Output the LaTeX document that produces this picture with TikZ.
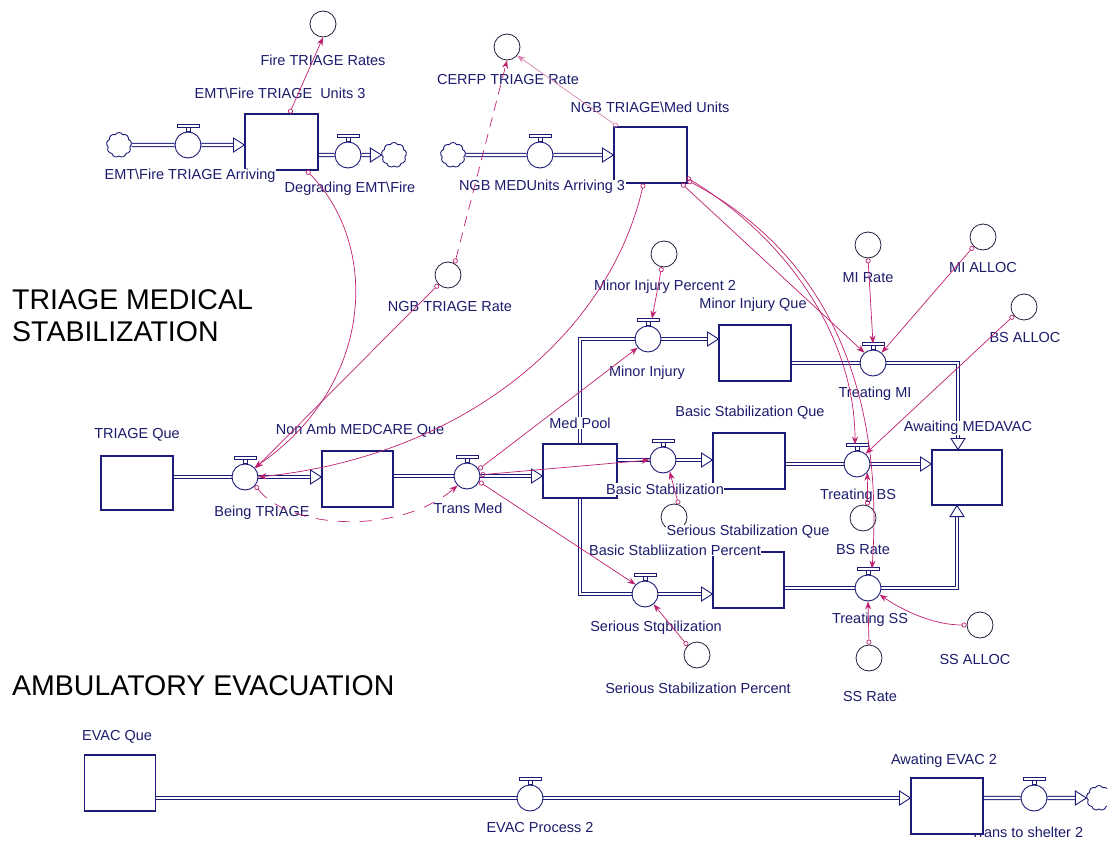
\documentclass[tikz,border=0pt]{standalone}
\usepackage{fontspec}
\setmainfont{Liberation Sans}
\usetikzlibrary{arrows.meta,shapes.symbols,calc}
\definecolor{pipec}{RGB}{28,28,120}
\definecolor{labc}{RGB}{28,28,110}
\definecolor{linkc}{RGB}{192,32,112}
\definecolor{auxc}{RGB}{30,30,60}
\pgfdeclarelayer{paper}
\pgfdeclarelayer{pipes}
\pgfsetlayers{paper,pipes,main}
\tikzset{
  flowtip/.pic={\draw[pipec, fill=white, line width=0.9pt, line join=miter] (0,0) -- (-11,-7) -- (-11,7) -- cycle;},
}
\begin{document}
\begin{tikzpicture}[x=1pt,y=-1pt,
  lab/.style={font=\fontsize{14.5}{17}\selectfont, text=labc, fill=white, inner sep=0.6pt},
  head/.style={font=\fontsize{28.5}{32}\selectfont, anchor=west, align=left, inner sep=0pt},
  stock/.style={rectangle, draw=pipec, fill=white, line width=1.1pt, inner sep=0pt},
  valve/.style={circle, draw=pipec, fill=white, line width=0.9pt, minimum size=26pt, inner sep=0pt},
  sink/.style={cloud, cloud puffs=9, cloud puff arc=120, aspect=1, draw=pipec, fill=white, line width=0.9pt, minimum width=25pt, minimum height=25pt, inner sep=0pt},
  aux/.style={circle, draw=auxc, fill=white, line width=0.8pt, minimum size=26pt, inner sep=0pt},
  pipe/.style={draw=pipec, line width=0.9pt, double=white, double distance=2.4pt, line join=miter},
  link/.style={draw=linkc, line width=0.7pt, {Circle[open,length=5pt,width=5pt]}-{Stealth[length=8pt,width=6pt]}},
  faint/.style={draw=linkc!55},
  dashlink/.style={dash pattern=on 10pt off 7pt},
]
\useasboundingbox (0,0) rectangle (1107,842);
\begin{pgfonlayer}{paper}
  \fill[white] (0,0) rectangle (1107,842);
\end{pgfonlayer}

% ---------- section headings ----------
\node[head] (hTriage) at (12,316) {TRIAGE MEDICAL\\STABILIZATION};
\node[head] (hAmb) at (12,686) {AMBULATORY EVACUATION};

% label partly hidden by the stock drawn after it
\node[lab] (lvts) at (1027,832) {Trans to shelter 2};

% ---------- stocks ----------
\node[stock, minimum width=73pt, minimum height=56pt] (s1) at (281.5,142) {};
\node[stock, minimum width=73pt, minimum height=56pt] (s2) at (650.5,155) {};
\node[stock, minimum width=72pt, minimum height=54pt] (tq) at (137,483) {};
\node[stock, minimum width=71pt, minimum height=56pt] (nonamb) at (357.5,479) {};
\node[stock, minimum width=74pt, minimum height=54pt] (medpool) at (580,471) {};
\node[stock, minimum width=72pt, minimum height=56pt] (miq) at (755,353) {};
\node[stock, minimum width=72pt, minimum height=56pt] (bsq) at (749,461) {};
\node[stock, minimum width=71pt, minimum height=56pt] (ssq) at (748.5,580) {};
\node[stock, minimum width=70pt, minimum height=55pt] (medavac) at (967,477.5) {};
\node[stock, minimum width=71pt, minimum height=56pt] (evacq) at (120,783) {};
\node[stock, minimum width=72pt, minimum height=56pt] (evac2) at (947,806) {};

% ---------- flow valves ----------
\node[valve] (v1) at (188,145) {};
\node[valve] (v2) at (348,155) {};
\node[valve] (v3) at (540,155) {};
\node[valve] (vbt) at (245,477) {};
\node[valve] (vtm) at (467,476) {};
\node[valve] (vmi) at (648,339) {};
\node[valve] (vbs) at (663,460) {};
\node[valve] (vss) at (645,594) {};
\node[valve] (vtmi) at (873,363) {};
\node[valve] (vtbs) at (857,464) {};
\node[valve] (vtss) at (868,588) {};
\node[valve] (vevac) at (530,798) {};
\node[valve] (vts) at (1034,798) {};
\foreach \v in {v1,v2,v3,vbt,vtm,vmi,vbs,vss,vtmi,vtbs,vtss,vevac,vts} {
  \draw[pipec, fill=white, line width=0.8pt] ($(\v.north)+(-2,0)$) rectangle ($(\v.north)+(2,-4)$);
  \draw[pipec, fill=white, line width=0.8pt] ($(\v.north)+(-11,-4)$) rectangle ($(\v.north)+(11,-7.5)$);
}

% ---------- sources and sinks ----------
\node[sink] (c1) at (119,145) {};
\node[sink] (c2) at (394,155) {};
\node[sink] (c3) at (453,155) {};
\node[sink] (c4) at (1099,798) {};

% ---------- converters ----------
\node[aux] (afire) at (323,24) {};
\node[aux] (acerfp) at (507,47) {};
\node[aux] (angb) at (448,275) {};
\node[aux] (amip) at (664,254) {};
\node[aux] (amirate) at (868,245) {};
\node[aux] (amialloc) at (983,237) {};
\node[aux] (abspct) at (674,517) {};
\node[aux] (absalloc) at (1024,307) {};
\node[aux] (absrate) at (863,518) {};
\node[aux] (assalloc) at (980,625) {};
\node[aux] (assrate) at (869,658) {};
\node[aux] (asspct) at (697,655) {};

% ---------- pipes ----------
\begin{pgfonlayer}{pipes}
  \draw[pipe] (c1) -- (v1) -- ($(s1.west|-v1)+(-11,0)$);
  \pic at (s1.west|-v1) {flowtip};
  \draw[pipe] (s1.east|-v2) -- (v2) -- ($(c2.west)+(-11,0)$);
  \pic at (c2.west) {flowtip};
  \draw[pipe] (c3) -- (v3) -- ($(s2.west|-v3)+(-11,0)$);
  \pic at (s2.west|-v3) {flowtip};
  \draw[pipe] (tq.east|-vbt) -- (vbt) -- ($(nonamb.west|-vbt)+(-11,0)$);
  \pic at (nonamb.west|-vbt) {flowtip};
  \draw[pipe] (nonamb.east|-vtm) -- (vtm) -- ($(medpool.west|-vtm)+(-11,0)$);
  \pic at (medpool.west|-vtm) {flowtip};
  \draw[pipe] (medpool.north) |- (vmi) -- ($(miq.west|-vmi)+(-11,0)$);
  \pic at (miq.west|-vmi) {flowtip};
  \draw[pipe] (medpool.east|-vbs) -- (vbs) -- ($(bsq.west|-vbs)+(-11,0)$);
  \pic at (bsq.west|-vbs) {flowtip};
  \draw[pipe] (medpool.south) |- (vss) -- ($(ssq.west|-vss)+(-11,0)$);
  \pic at (ssq.west|-vss) {flowtip};
  \coordinate (mtop) at ($(medavac.north)+(-9,0)$);
  \coordinate (mbot) at ($(medavac.south)+(-10,0)$);
  \draw[pipe] (miq.east|-vtmi) -- (vtmi) -| ($(mtop)+(0,-11)$);
  \pic[rotate=-90] at (mtop) {flowtip};
  \draw[pipe] (bsq.east|-vtbs) -- (vtbs) -- ($(medavac.west|-vtbs)+(-11,0)$);
  \pic at (medavac.west|-vtbs) {flowtip};
  \draw[pipe] (ssq.east|-vtss) -- (vtss) -| ($(mbot)+(0,11)$);
  \pic[rotate=90] at (mbot) {flowtip};
  \draw[pipe] (evacq.east|-vevac) -- (vevac) -- ($(evac2.west|-vevac)+(-11,0)$);
  \pic at (evac2.west|-vevac) {flowtip};
  \draw[pipe] (evac2.east|-vts) -- (vts) -- ($(c4.west)+(-11,0)$);
  \pic at (c4.west) {flowtip};
\end{pgfonlayer}

% ---------- labels ----------
\node[lab] (lfire) at (323,60) {Fire TRIAGE Rates};
\node[lab] (ls1) at (280,93) {EMT\textbackslash Fire TRIAGE\ \ Units 3};
\node[lab] (lv1) at (190,176) {EMT\textbackslash Fire TRIAGE Arriving};
\node[lab] (lv2) at (350,189) {Degrading EMT\textbackslash Fire};
\node[lab] (lcerfp) at (508,80) {CERFP TRIAGE Rate};
\node[lab] (ls2) at (650,107) {NGB TRIAGE\textbackslash Med Units};
\node[lab] (lv3) at (542,187) {NGB MEDUnits Arriving 3};
\node[lab] (lngb) at (450,307) {NGB TRIAGE Rate};
\node[lab] (lmip) at (665,287) {Minor Injury Percent 2};
\node[lab] (lmiq) at (753,305) {Minor Injury Que};
\node[lab] (lmirate) at (868,278) {MI Rate};
\node[lab] (lmialloc) at (983,268) {MI ALLOC};
\node[lab] (lbsalloc) at (1025,338) {BS ALLOC};
\node[lab] (lvmi) at (647,373) {Minor Injury};
\node[lab] (lvtmi) at (875,394) {Treating MI};
\node[lab] (ltq) at (137,435) {TRIAGE Que};
\node[lab] (lnonamb) at (360,431) {Non Amb MEDCARE Que};
\node[lab] (lmedpool) at (580,423) {Med Pool};
\node[lab] (lbsq) at (750,413) {Basic Stabilization Que};
\node[lab] (lmedavac) at (968,428) {Awaiting MEDAVAC};
\node[lab] (lvbt) at (262,513) {Being TRIAGE};
\node[lab] (lvtm) at (468,508) {Trans Med};
\node[lab] (lvbs) at (665,489) {Basic Stabilization};
\node[lab] (lvtbs) at (858,496) {Treating BS};
\node[lab] (lssq) at (748,532) {Serious Stabilization Que};
\node[lab] (lbspct) at (675,550) {Basic Stabliization Percent};
\node[lab] (lbsrate) at (863,550) {BS Rate};
\node[lab] (lvss) at (656,628) {Serious Stqbilization};
\node[lab] (lvtss) at (870,620) {Treating SS};
\node[lab] (lssalloc) at (975,660) {SS ALLOC};
\node[lab] (lsspct) at (698,688) {Serious Stabilization Percent};
\node[lab] (lssrate) at (870,697) {SS Rate};
\node[lab] (levacq) at (117,737) {EVAC Que};
\node[lab] (lvevac) at (540,827) {EVAC Process 2};
\node[lab] (levac2) at (944,761) {Awating EVAC 2};

% ---------- information links ----------
\draw[link] ($(s1.north)+(8,0)$) -- (afire.south);
\draw[link] ($(s1.south)+(25,0)$) .. controls (380,245) and (375,385) .. (vbt.45);
\draw[link] (angb.225) -- (vbt.40);
\draw[link, dashlink] (angb.60) -- (acerfp.south);
\draw[link, faint] ($(s2.north west)+(4,0)$) -- (acerfp.-40);
\draw[link] ($(s2.south)+(-7,0)$) .. controls (610,330) and (470,455) .. (vbt.east);
\draw[link, dash pattern=on 12pt off 10pt] (vbt.-40) .. controls (290,530) and (400,535) .. (vtm.-135);
\draw[link] (vtm.30) -- (vmi.-140);
\draw[link] (vtm.5) -- (vbs.west);
\draw[link] (vtm.-25) -- (vss.135);
\draw[link] (amip.-100) -- ($(vmi.north)+(4,-7)$);
\draw[link] (abspct.70) -- (vbs.-60);
\draw[link] (asspct.135) -- (vss.-50);
\draw[link] ($(s2.south east)+(-6,0)$) -- (vtmi.130);
\draw[link] ($(s2.south east)+(-1,-6)$) .. controls (790,240) and (855,340) .. ($(vtbs.north)+(-2,-6)$);
\draw[link] ($(s2.south east)+(0,-3)$) .. controls (820,250) and (885,380) .. ($(vtss.north)+(4,-6)$);
\draw[link] (absrate.70) -- (vtbs.-40);
\draw[link] (amirate.south) -- ($(vtmi.north)+(0,-6)$);
\draw[link] (amialloc.-135) -- (vtmi.50);
\draw[link] (absalloc.-140) -- (vtbs.50);
\draw[link] (assrate.north) -- (vtss.south);
\draw[link] (assalloc.west) .. controls (935,625) and (905,612) .. (vtss.-30);
\end{tikzpicture}
\end{document}
